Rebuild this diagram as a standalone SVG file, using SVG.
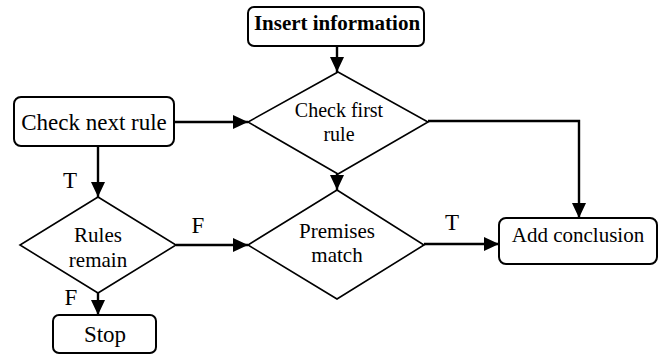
<svg xmlns="http://www.w3.org/2000/svg" width="661" height="354" viewBox="0 0 661 354">
<defs>
<marker id="ah" markerWidth="15" markerHeight="14" refX="15" refY="7" orient="auto" markerUnits="userSpaceOnUse">
<path d="M0,0 L15,7 L0,14 Z" fill="#000"/>
</marker>
<style>
.box{fill:#fff;stroke:#000;stroke-width:2}
.dia{fill:#fff;stroke:#000;stroke-width:1.6}
.t{fill:#000;text-anchor:middle}
.c{fill:none;stroke:#000;stroke-width:2.4}
</style>
</defs>
<rect width="661" height="354" fill="#fff"/>
<g font-family="'Liberation Serif', 'DejaVu Serif', serif">
<g id="connectors">
<path class="c" d="M337,46 L337,72" marker-end="url(#ah)"/>
<path class="c" d="M174,122 L248,122" marker-end="url(#ah)"/>
<path class="c" d="M428,121 L579,121 L579,218" marker-end="url(#ah)"/>
<path class="c" d="M98,146 L98,197" marker-end="url(#ah)"/>
<path class="c" d="M337,174 L337,190" marker-end="url(#ah)"/>
<path class="c" d="M176,245 L248,245" marker-end="url(#ah)"/>
<path class="c" d="M424,244 L499,244" marker-end="url(#ah)"/>
<path class="c" d="M98,293 L98,315" marker-end="url(#ah)"/>
<text class="t" x="70" y="188" font-size="23">T</text>
<text class="t" x="198" y="233" font-size="23">F</text>
<text class="t" x="452" y="230" font-size="23">T</text>
<text class="t" x="71" y="305" font-size="23">F</text>
</g>
<g id="insert">
<rect class="box" x="248" y="7" width="176" height="39" rx="6"/>
<text class="t" x="337" y="30" font-size="21" font-weight="bold">Insert information</text>
</g>
<g id="checknext">
<rect class="box" x="14" y="97" width="160" height="49" rx="7"/>
<text class="t" x="94" y="130" font-size="23">Check next rule</text>
</g>
<g id="checkfirst">
<polygon class="dia" points="338,72 428,122 338,174 248,122"/>
<text class="t" x="339" y="117" font-size="20">Check first</text>
<text class="t" x="339" y="141" font-size="20">rule</text>
</g>
<g id="rulesremain">
<polygon class="dia" points="98,197 176,245 98,293 20,245"/>
<text class="t" x="98" y="242" font-size="21">Rules</text>
<text class="t" x="98" y="267" font-size="21">remain</text>
</g>
<g id="premises">
<polygon class="dia" points="337,190 424,245 337,299 248,245"/>
<text class="t" x="337" y="238" font-size="21">Premises</text>
<text class="t" x="337" y="262" font-size="21">match</text>
</g>
<g id="addconclusion">
<rect class="box" x="499" y="218" width="158" height="46" rx="7"/>
<text class="t" x="578" y="242" font-size="21">Add conclusion</text>
</g>
<g id="stop">
<rect class="box" x="53" y="315" width="103" height="38" rx="6"/>
<text class="t" x="105" y="342" font-size="23">Stop</text>
</g>
</g>
</svg>
